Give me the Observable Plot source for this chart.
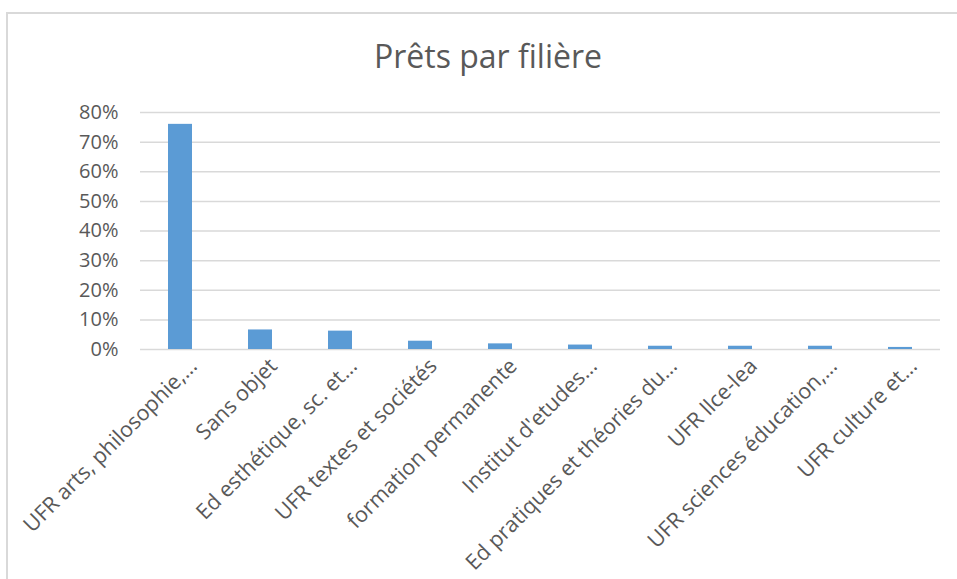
<!DOCTYPE html>
<html>
<head>
<meta charset="utf-8">
<script src="https://cdn.jsdelivr.net/npm/d3@7"></script>
<script src="https://cdn.jsdelivr.net/npm/@observablehq/plot@0.6"></script>
<style>
  html, body { margin: 0; padding: 0; background: #fff; overflow: hidden; }
  #wrap { position: relative; width: 957px; height: 579px; font-family: "Open Sans", sans-serif; }
  #frame { position: absolute; left: 6px; top: 12px; width: 1000px; height: 620px; border: 2px solid #d9d9d9; box-sizing: border-box; }
  #title { position: absolute; left: 0; width: 976px; top: 40px; text-align: center; font-size: 32px; line-height: 1; color: #595959; }
  #chart { position: absolute; left: 0; top: 0; }
</style>
</head>
<body>
<div id="wrap">
  <div id="frame"></div>
  <div id="chart"></div>
  <div id="title">Prêts par filière</div>
</div>
<script>
const categories = [
  "UFR arts, philosophie,…",
  "Sans objet",
  "Ed esthétique, sc. et…",
  "UFR textes et sociétés",
  "formation permanente",
  "Institut d'etudes…",
  "Ed pratiques et théories du…",
  "UFR llce-lea",
  "UFR sciences éducation,…",
  "UFR culture et…"
];
const shares = [0.760, 0.066, 0.062, 0.028, 0.019, 0.015, 0.011, 0.011, 0.011, 0.007];
const yTicks = [0, 0.1, 0.2, 0.3, 0.4, 0.5, 0.6, 0.7, 0.8];

const data = categories.map((c, i) => ({category: c, share: shares[i]}));

const chart = Plot.plot({
  width: 957,
  height: 579,
  marginLeft: 140,
  marginRight: 17,
  marginTop: 112,
  marginBottom: 230,
  style: {fontFamily: "Open Sans, sans-serif", color: "#595959", background: "transparent", overflow: "visible"},
  x: {domain: categories, paddingInner: 0.7, paddingOuter: 0.35, axis: null},
  y: {domain: [0, 0.8], axis: null},
  marks: [
    Plot.ruleY(yTicks, {stroke: "#d9d9d9", strokeWidth: 1.5}),
    Plot.barY(data, {x: "category", y: "share", fill: "#5b9bd5"}),
    Plot.axisY({ticks: yTicks, tickSize: 0, tickPadding: 22, tickFormat: d3.format(".0%"), fontSize: 20, fill: "#595959", label: null}),
    Plot.text(categories, {
      x: d => d,
      y: () => 0,
      text: d => d,
      rotate: -45,
      textAnchor: "end",
      lineAnchor: "middle",
      dx: 13,
      dy: 13,
      fontSize: 21.5,
      fill: "#595959"
    })
  ]
});
document.getElementById("chart").appendChild(chart);
</script>
</body>
</html>
